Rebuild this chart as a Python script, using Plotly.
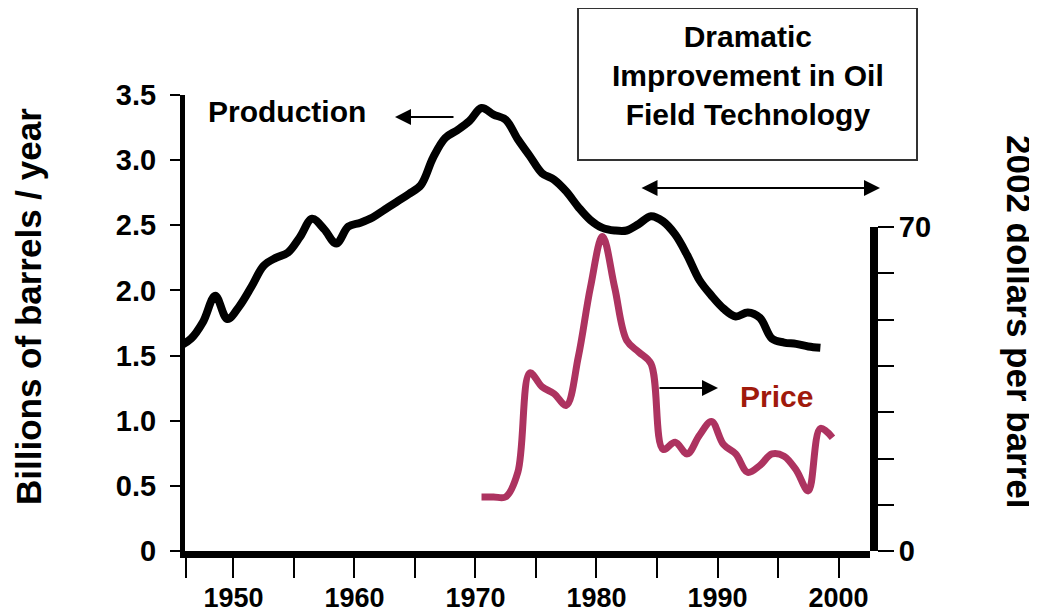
import plotly.graph_objects as go

# US oil production, billions of barrels per year
prod_years = list(range(1945, 1999))
production = [1.57, 1.63, 1.76, 1.96, 1.78, 1.88, 2.03, 2.19, 2.25, 2.29,
              2.41, 2.55, 2.47, 2.36, 2.49, 2.52, 2.56, 2.62, 2.68, 2.74,
              2.81, 3.02, 3.17, 3.23, 3.30, 3.40, 3.35, 3.31, 3.16, 3.03,
              2.90, 2.85, 2.76, 2.64, 2.54, 2.48, 2.46, 2.46, 2.51, 2.57,
              2.53, 2.43, 2.27, 2.08, 1.96, 1.86, 1.80, 1.83, 1.79, 1.63,
              1.60, 1.59, 1.57, 1.56]

# oil price, 2002 dollars per barrel
price_years = list(range(1970, 2000))
price = [11.7, 11.7, 11.7, 17.0, 38.5, 35.5, 34.0, 31.5, 42.0, 57.0,
         68.0, 57.0, 45.5, 43.0, 40.5, 22.0, 23.5, 21.0, 25.0, 28.0,
         23.0, 21.0, 17.0, 18.5, 21.0, 20.5, 17.5, 13.0, 26.5, 24.5]

label_years = [1950, 1960, 1970, 1980, 1990, 2000]
left_ticks = [0, 0.5, 1.0, 1.5, 2.0, 2.5, 3.0, 3.5]
left_text = ["0", "0.5", "1.0", "1.5", "2.0", "2.5", "3.0", "3.5"]
right_ticks = [0, 10, 20, 30, 40, 50, 60, 70]
right_text = ["0", "", "", "", "", "", "", "70"]

# page body adds an 8px offset, so margins are shifted by that much
W, H = 1037, 616
OFF = 8
L, T = 185 - OFF, 95 - OFF
PW, PH = 685, 456
R, B = W - L - PW, H - T - PH


def px(x):
    return (x - OFF - L) / PW


def py(y):
    return (T + PH + OFF - y) / PH


bold = dict(family="Liberation Sans, Arial, sans-serif", color="black", weight="bold")


def note(text, x, y, size=30, color="black", angle=0):
    fig.add_annotation(text=text, xref="paper", yref="paper", x=px(x), y=py(y),
                       xanchor="center", yanchor="middle", textangle=angle,
                       showarrow=False,
                       font=dict(size=size, family=bold["family"], color=color, weight="bold"))


def arrow(x_tip, x_tail, y, both=False):
    fig.add_annotation(text="", xref="paper", yref="paper", x=px(x_tip), y=py(y),
                       ax=x_tail - x_tip, ay=0, showarrow=True, arrowhead=2,
                       arrowside="end+start" if both else "end",
                       arrowsize=1.6, arrowwidth=2, arrowcolor="black")


fig = go.Figure()
fig.add_trace(go.Scatter(x=prod_years, y=production, mode="lines", line_shape="spline",
                         line=dict(color="black", width=8), yaxis="y", name="Production"))
fig.add_trace(go.Scatter(x=price_years, y=price, mode="lines", line_shape="spline",
                         line=dict(color="#AD3360", width=7), yaxis="y2", name="Price"))

fig.update_layout(
    width=W, height=H, margin=dict(l=L, r=R, t=T, b=B, autoexpand=False),
    plot_bgcolor="rgba(0,0,0,0)", paper_bgcolor="white", showlegend=False,
    xaxis=dict(range=[1945.5, 2002.1], showgrid=False, zeroline=False, automargin=False,
               showline=True, linecolor="black", linewidth=7,
               tickmode="array", tickvals=[y - 0.5 for y in label_years],
               ticktext=[str(y) for y in label_years],
               ticks="outside", ticklen=20, tickwidth=2, tickcolor="black",
               # minor ticks sit on the half-year boundaries like the major ones
               minor=dict(tickmode="array",
                          tickvals=[1945.6] + [v + 0.5 for v in range(1949, 2000, 5)],
                          ticks="outside", ticklen=20, tickwidth=2, tickcolor="black"),
               tickfont=dict(size=27, **bold), ticklabelstandoff=-3),
    yaxis=dict(range=[0, 3.5], showgrid=False, zeroline=False, automargin=False,
               showline=True, linecolor="black", linewidth=5,
               tickmode="array", tickvals=left_ticks, ticktext=left_text,
               ticks="outside", ticklen=10, tickwidth=2, tickcolor="black",
               tickfont=dict(size=29, **bold), ticklabelstandoff=8),
    yaxis2=dict(range=[0, 70], domain=[0, 0.71], anchor="x", side="right",
                showgrid=False, zeroline=False, automargin=False,
                showline=True, linecolor="black", linewidth=8,
                tickmode="array", tickvals=right_ticks, ticktext=right_text,
                ticks="outside", ticklen=16, tickwidth=2, tickcolor="black",
                tickfont=dict(size=29, **bold), ticklabelstandoff=-1),
)

# axis titles
note("Billions of barrels / year", 28, 307, size=35, angle=-90)
note("2002 dollars per barrel", 1020, 322, size=35, angle=90)

# series labels with arrows
note("Production", 287, 111)
arrow(395, 455, 117)
note("Price", 776, 396, color="#A01A0C")
arrow(718, 658, 388)

# technology box and span arrow
fig.add_shape(type="rect", xref="paper", yref="paper",
              x0=px(578), x1=px(917), y0=py(160), y1=py(8),
              line=dict(color="#333333", width=2), fillcolor="white")
note("Dramatic<br>Improvement in Oil<br>Field Technology", 748, 76)
arrow(880, 640, 188, both=True)

fig.write_html("out.html")
